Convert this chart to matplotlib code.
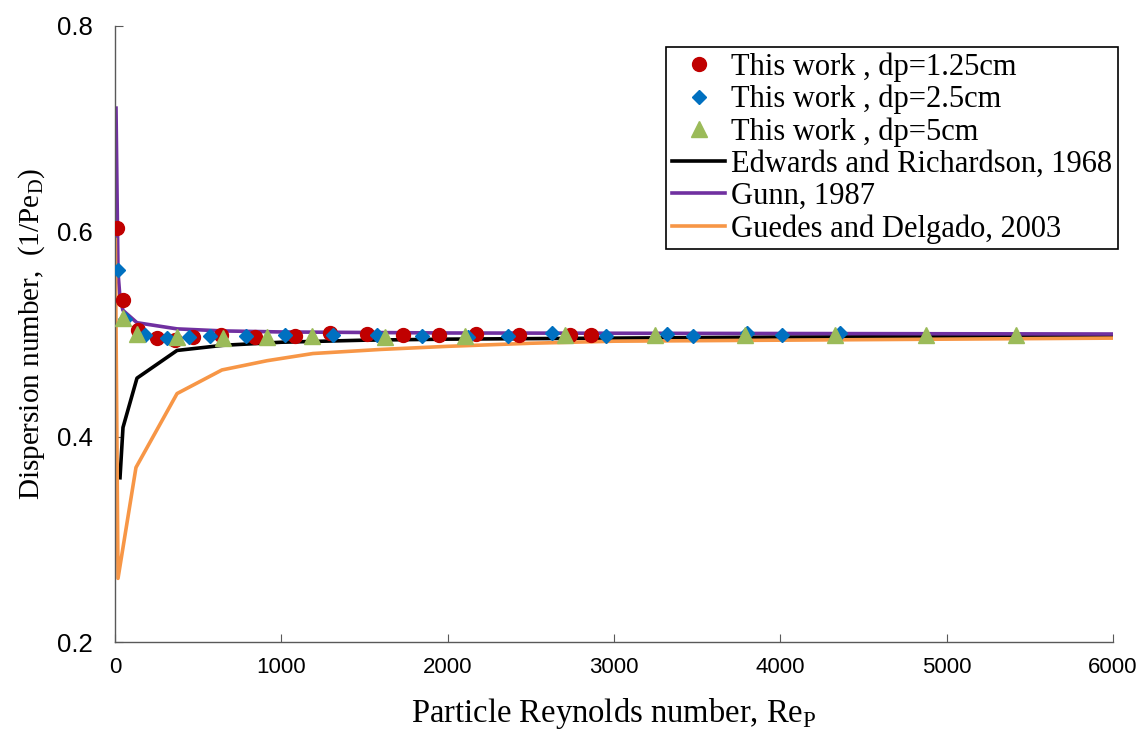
# dispersion number vs particle Reynolds number

import numpy as np
import matplotlib.pyplot as plt
from matplotlib import font_manager

# measured data, this work
re_125 = [12, 48, 138, 252, 361, 469, 637, 842, 1082, 1292, 1515, 1731, 1948,
          2170, 2429, 2735, 2862]
d_125 = [0.603, 0.533, 0.504, 0.496, 0.494, 0.497, 0.499, 0.497, 0.498, 0.501,
         0.500, 0.499, 0.499, 0.500, 0.499, 0.499, 0.499]

re_25 = [18, 60, 180, 313, 445, 571, 788, 1022, 1311, 1575, 1846, 2122, 2363,
         2627, 2952, 3319, 3475, 3800, 4010, 4359]
d_25 = [0.562, 0.515, 0.499, 0.496, 0.497, 0.498, 0.498, 0.499, 0.499, 0.499,
        0.498, 0.497, 0.498, 0.501, 0.498, 0.500, 0.498, 0.501, 0.499, 0.501]

re_5 = [48, 132, 373, 649, 914, 1184, 1623, 2104, 2705, 3246, 3788, 4329,
        4876, 5417]
d_5 = [0.516, 0.500, 0.497, 0.496, 0.497, 0.498, 0.497, 0.498, 0.499, 0.499,
       0.499, 0.499, 0.499, 0.499]

# correlations from literature
re_edw = [30, 48, 132, 373, 650, 1000, 1500, 2000, 3000, 4000, 6000]
d_edw = [0.360, 0.409, 0.457, 0.484, 0.489, 0.492, 0.494, 0.495, 0.496, 0.497,
         0.498]

re_gunn = [6, 18, 30, 48, 132, 373, 650, 1000, 2000, 6000]
d_gunn = [0.720, 0.560, 0.535, 0.523, 0.511, 0.505, 0.503, 0.502, 0.501, 0.500]

re_gue = [2, 18, 126, 373, 643, 914, 1190, 1600, 2000, 2500, 3000, 4000, 5000,
          6000]
d_gue = [0.592, 0.262, 0.370, 0.442, 0.465, 0.474, 0.481, 0.485, 0.488, 0.491,
         0.493, 0.494, 0.495, 0.496]

serif = "Liberation Serif"
sans = "Liberation Sans"
narrow = "Liberation Sans Narrow"
installed = {f.name for f in font_manager.fontManager.ttflist}
if narrow not in installed:
    narrow = sans

fig = plt.figure(figsize=(11.41, 7.30), dpi=100)
ax = fig.add_axes([0.1008, 0.1205, 0.8747, 0.8439])

ax.plot(re_125, d_125, "o", color="#C00000", ms=10, zorder=4,
        label="This work , dp=1.25cm")
ax.plot(re_25, d_25, "D", color="#0070C0", ms=7, zorder=4,
        label="This work , dp=2.5cm")
ax.plot(re_5, d_5, "^", color="#9BBB59", ms=12, zorder=4,
        label="This work , dp=5cm")
ax.plot(re_edw, d_edw, "-", color="black", lw=2.6, zorder=2,
        label="Edwards and Richardson, 1968")
ax.plot(re_gunn, d_gunn, "-", color="#7030A0", lw=2.6, zorder=2,
        label="Gunn, 1987")
ax.plot(re_gue, d_gue, "-", color="#F79646", lw=2.6, zorder=2,
        label="Guedes and Delgado, 2003")

ax.set_xlim(0, 6000)
ax.set_ylim(0.2, 0.8)
ax.set_xticks(np.arange(0, 6001, 1000))
ax.set_yticks([0.2, 0.4, 0.6, 0.8])
ax.set_yticklabels(["0.2", "0.4", "0.6", "0.8"], fontfamily=sans,
                   fontsize=18.5)
ax.set_xticklabels([str(v) for v in range(0, 6001, 1000)], fontfamily=narrow,
                   fontsize=16)

for side in ["top", "right"]:
    ax.spines[side].set_visible(False)
for side in ["left", "bottom"]:
    ax.spines[side].set_color("#595959")
    ax.spines[side].set_linewidth(1.0)
ax.tick_params(axis="both", direction="in", length=6, color="#595959")
ax.tick_params(axis="y", pad=16)
ax.tick_params(axis="x", pad=11)

ax.set_xlabel(r"Particle Reynolds number, Re$_\mathregular{P}$",
              fontfamily=serif, fontsize=23.5, labelpad=13)
ax.set_ylabel(r"Dispersion number,  (1/Pe$_\mathregular{D}$)",
              fontfamily=serif, fontsize=21, labelpad=7)

leg = ax.legend(loc="upper right", bbox_to_anchor=(1.005, 0.966),
                prop={"family": serif, "size": 22}, frameon=True,
                fancybox=False, edgecolor="black", framealpha=1,
                borderpad=0.18, labelspacing=0.1, handlelength=1.75,
                handletextpad=0.2, borderaxespad=0)
leg.get_frame().set_linewidth(1.2)

fig.savefig("out.png", dpi=100)
